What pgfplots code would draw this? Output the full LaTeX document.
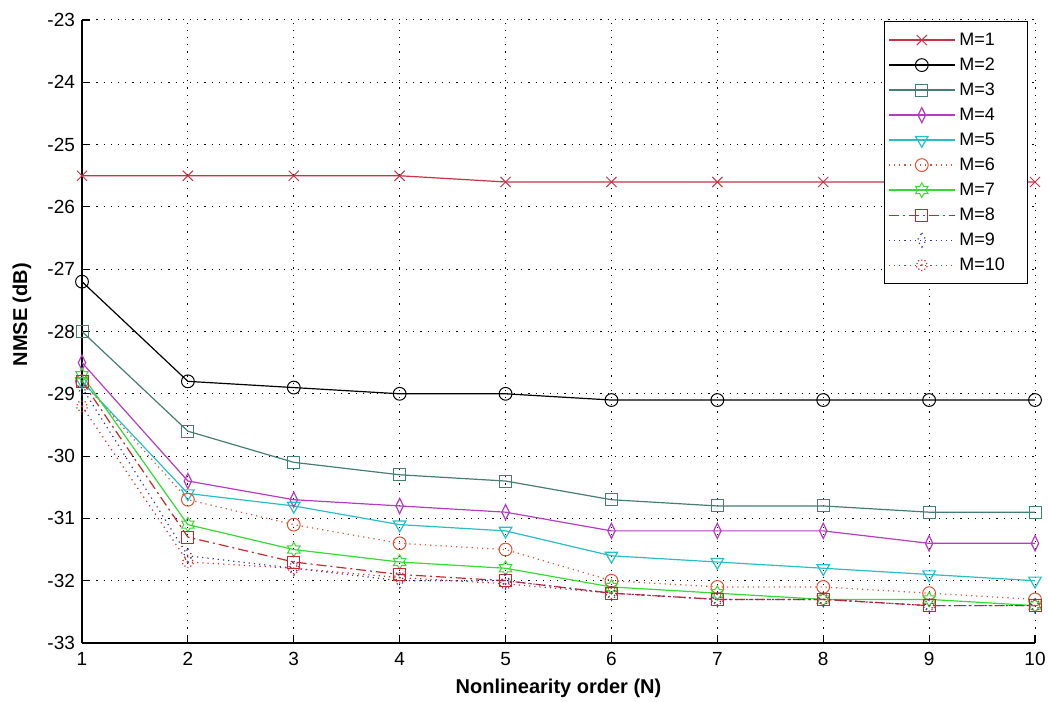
\documentclass[border=0pt]{standalone}
\usepackage{pgfplots}
\pgfplotsset{compat=1.18}
\usepackage{fontspec}
\setmainfont{Liberation Sans}
\definecolor{colA}{RGB}{200,50,70}
\definecolor{colB}{RGB}{0,0,0}
\definecolor{colC}{RGB}{70,125,115}
\definecolor{colD}{RGB}{180,60,190}
\definecolor{colE}{RGB}{40,190,200}
\definecolor{colF}{RGB}{225,80,50}
\definecolor{colG}{RGB}{50,220,50}
\definecolor{colH}{RGB}{200,40,45}
\definecolor{colI}{RGB}{50,50,170}
\definecolor{colJ}{RGB}{220,40,40}
\pgfdeclareplotmark{hexagram}{%
  \pgfpathmoveto{\pgfqpointpolar{90}{\pgfplotmarksize}}%
  \pgfpathlineto{\pgfqpointpolar{120}{0.577\pgfplotmarksize}}%
  \pgfpathlineto{\pgfqpointpolar{150}{\pgfplotmarksize}}%
  \pgfpathlineto{\pgfqpointpolar{180}{0.577\pgfplotmarksize}}%
  \pgfpathlineto{\pgfqpointpolar{210}{\pgfplotmarksize}}%
  \pgfpathlineto{\pgfqpointpolar{240}{0.577\pgfplotmarksize}}%
  \pgfpathlineto{\pgfqpointpolar{270}{\pgfplotmarksize}}%
  \pgfpathlineto{\pgfqpointpolar{300}{0.577\pgfplotmarksize}}%
  \pgfpathlineto{\pgfqpointpolar{330}{\pgfplotmarksize}}%
  \pgfpathlineto{\pgfqpointpolar{0}{0.577\pgfplotmarksize}}%
  \pgfpathlineto{\pgfqpointpolar{30}{\pgfplotmarksize}}%
  \pgfpathlineto{\pgfqpointpolar{60}{0.577\pgfplotmarksize}}%
  \pgfpathclose
  \pgfusepathqstroke}
\begin{document}
\begin{tikzpicture}
\begin{axis}[
  scale only axis, width=476.5pt, height=311.5pt,
  xmin=1, xmax=10, ymin=-33, ymax=-23,
  xtick={1,...,10}, ytick={-33,-32,...,-23},
  axis x line*=bottom, axis y line*=left,
  axis line style={black, line width=0.8pt, -},
  tick align=inside, major tick length=4pt,
  tick style={black, line width=0.6pt},
  grid=major, grid style={black, line width=0.5pt, dash pattern=on 0.6pt off 3pt},
  /pgf/number format/assume math mode=true,
  ticklabel style={font=\fontsize{9.5}{11}\selectfont},
  xticklabel style={yshift=-1pt},
  xlabel={Nonlinearity order (N)}, ylabel={NMSE (dB)},
  every axis x label/.style={font=\fontsize{10}{12}\selectfont\bfseries, at={(axis description cs:0.5,0)}, anchor=base, yshift=-25pt},
  every axis y label/.style={font=\fontsize{10}{12}\selectfont\bfseries, at={(axis description cs:-0.063,0.527)}, anchor=center, rotate=90},
  legend cell align=left,
  legend style={at={(1,1)}, anchor=north east, xshift=-3.5pt, yshift=-0.5pt,
    draw=black, line width=0.6pt, inner xsep=2pt, inner ysep=3pt, row sep=0pt,
    font=\fontsize{9}{11}\selectfont,
    nodes={text height=6.5pt, text depth=1.5pt, inner ysep=2.25pt, text width=30pt, align=left}},
  legend image code/.code={\draw[#1, mark repeat=2, mark phase=2] plot coordinates {(0pt,0pt) (16.5pt,0pt) (33pt,0pt)};},
  every axis plot/.append style={line width=0.6pt, mark size=3.2pt, mark options={solid, line width=0.5pt, fill=none}},
]
\addplot[colA, mark=x, mark size=3.6pt] coordinates {(1,-25.5) (2,-25.5) (3,-25.5) (4,-25.5) (5,-25.6) (6,-25.6) (7,-25.6) (8,-25.6) (9,-25.6) (10,-25.6)};
\addlegendentry{M=1}
\addplot[colB, mark=o] coordinates {(1,-27.2) (2,-28.8) (3,-28.9) (4,-29.0) (5,-29.0) (6,-29.1) (7,-29.1) (8,-29.1) (9,-29.1) (10,-29.1)};
\addlegendentry{M=2}
\addplot[colC, mark=square, mark size=3pt] coordinates {(1,-28.0) (2,-29.6) (3,-30.1) (4,-30.3) (5,-30.4) (6,-30.7) (7,-30.8) (8,-30.8) (9,-30.9) (10,-30.9)};
\addlegendentry{M=3}
\addplot[colD, mark=diamond, mark size=3.8pt, mark options={xscale=0.65}] coordinates {(1,-28.5) (2,-30.4) (3,-30.7) (4,-30.8) (5,-30.9) (6,-31.2) (7,-31.2) (8,-31.2) (9,-31.4) (10,-31.4)};
\addlegendentry{M=4}
\addplot[colE, mark=triangle, mark size=3.6pt, mark options={rotate=180}] coordinates {(1,-28.8) (2,-30.6) (3,-30.8) (4,-31.1) (5,-31.2) (6,-31.6) (7,-31.7) (8,-31.8) (9,-31.9) (10,-32.0)};
\addlegendentry{M=5}
\addplot[colF, dotted, mark=o] coordinates {(1,-28.8) (2,-30.7) (3,-31.1) (4,-31.4) (5,-31.5) (6,-32.0) (7,-32.1) (8,-32.1) (9,-32.2) (10,-32.3)};
\addlegendentry{M=6}
\addplot[colG, mark=hexagram, mark size=3.6pt] coordinates {(1,-28.7) (2,-31.1) (3,-31.5) (4,-31.7) (5,-31.8) (6,-32.1) (7,-32.2) (8,-32.3) (9,-32.3) (10,-32.4)};
\addlegendentry{M=7}
\addplot[colH, dash pattern=on 5pt off 2pt on 1pt off 2pt, mark=square, mark size=3pt] coordinates {(1,-28.8) (2,-31.3) (3,-31.7) (4,-31.9) (5,-32.0) (6,-32.2) (7,-32.3) (8,-32.3) (9,-32.4) (10,-32.4)};
\addlegendentry{M=8}
\addplot[colI, dotted, mark=diamond, mark size=3.6pt, mark options={xscale=0.8}] coordinates {(1,-28.9) (2,-31.6) (3,-31.8) (4,-32.0) (5,-32.0) (6,-32.2) (7,-32.3) (8,-32.3) (9,-32.4) (10,-32.4)};
\addlegendentry{M=9}
\addplot[colJ, dotted, mark=10-pointed star, mark size=3pt, mark options={fill=white}] coordinates {(1,-29.2) (2,-31.7) (3,-31.8) (4,-31.95) (5,-32.05) (6,-32.2) (7,-32.3) (8,-32.3) (9,-32.4) (10,-32.4)};
\addlegendentry{M=10}
\coordinate (bl) at (rel axis cs:0,0);
\coordinate (tr) at (rel axis cs:1,1);
\end{axis}
\pgfresetboundingbox
\path[use as bounding box] ([shift={(-41pt,-29pt)}]bl) rectangle ([shift={(6.5pt,10pt)}]tr);
\end{tikzpicture}
\end{document}
